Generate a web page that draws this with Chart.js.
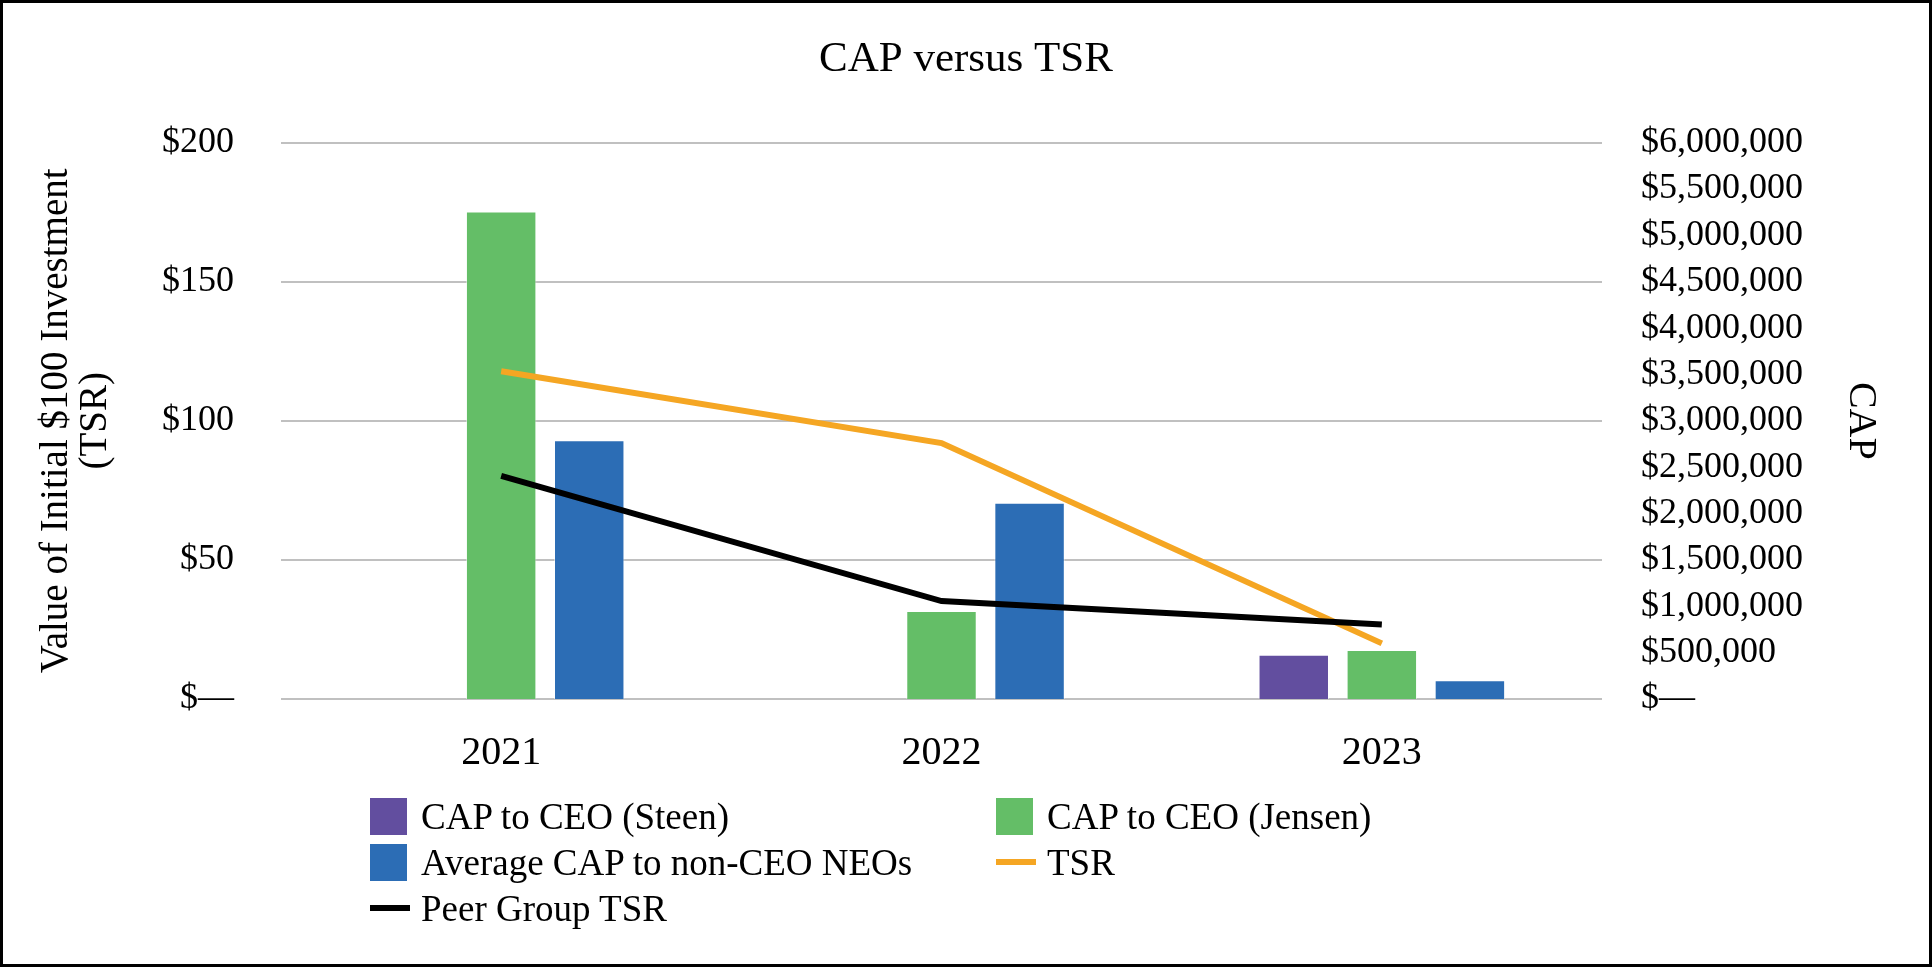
<!DOCTYPE html>
<html>
<head>
<meta charset="utf-8">
<title>CAP versus TSR</title>
<script src="https://cdn.jsdelivr.net/npm/chart.js@4.4.1/dist/chart.umd.min.js"></script>
<style>
    html, body { margin: 0; padding: 0; background: #fff; }
    #wrap { position: relative; width: 1932px; height: 967px; overflow: hidden; }
    #frame { position: absolute; left: 0; top: 0; width: 1932px; height: 967px;
             box-sizing: border-box; border: 3px solid #000; pointer-events: none; }
    #legend { position: absolute; left: 370px; top: 793px; width: 1300px;
              font-family: 'Liberation Serif', 'Times New Roman', serif; font-size: 37px; color: #000; }
    .item { position: absolute; height: 46px; display: flex; align-items: center; white-space: nowrap; }
    .box { width: 37px; height: 37px; margin-right: 14px; box-sizing: border-box; }
    .line { width: 40px; height: 6px; margin-right: 11px; }
</style>
</head>
<body>
<div id="wrap">
    <canvas id="capChart"></canvas>
    <div id="legend"></div>
    <div id="frame"></div>
</div>
<script>
const years = ['2021', '2022', '2023'];
const capSteen = [null, null, 477000];
const capJensen = [5257000, 950000, 528000];
const capNonCeo = [2790000, 2115000, 201000];
const tsr = [117.8, 92.0, 20.0];
const peerTsr = [80.2, 35.2, 26.8];

const serif = "'Liberation Serif', 'Times New Roman', serif";

document.addEventListener('DOMContentLoaded', function(){
    const ctx = document.getElementById('capChart').getContext('2d');

    const chart = new Chart(ctx, {
        type: 'bar',
        data: {
            labels: years,
            datasets: [
                { label: 'CAP to CEO (Steen)', data: capSteen, backgroundColor: '#624E9F',
                  borderColor: 'rgba(255,255,255,0.5)', borderWidth: 1, yAxisID: 'y1', order: 2 },
                { label: 'CAP to CEO (Jensen)', data: capJensen, backgroundColor: '#64BE67',
                  borderColor: 'rgba(255,255,255,0.5)', borderWidth: 1, yAxisID: 'y1', order: 2 },
                { label: 'Average CAP to non-CEO NEOs', data: capNonCeo, backgroundColor: '#2C6DB5',
                  borderColor: 'rgba(255,255,255,0.5)', borderWidth: 1, yAxisID: 'y1', order: 2 },
                { type: 'line', label: 'TSR', data: tsr, borderColor: '#F5A623', backgroundColor: '#F5A623',
                  borderWidth: 6, pointRadius: 0, tension: 0, yAxisID: 'y', order: 1 },
                { type: 'line', label: 'Peer Group TSR', data: peerTsr, borderColor: '#000', backgroundColor: '#000',
                  borderWidth: 6, pointRadius: 0, tension: 0, yAxisID: 'y', order: 0 }
            ]
        },
        options: {
            responsive: true,
            maintainAspectRatio: false,
            animation: false,
            categoryPercentage: 0.6,
            barPercentage: 0.8,
            layout: { padding: 0 },
            scales: {
                x: {
                    grid: { display: false },
                    border: { display: false },
                    ticks: { color: '#000', padding: 22, font: { family: serif, size: 40 } },
                    afterFit: function(scale){ scale.height = 268; }
                },
                y: {
                    position: 'left',
                    min: 0, max: 200,
                    grid: { color: '#C0C0C0', lineWidth: 2, drawTicks: false },
                    border: { display: false },
                    ticks: {
                        stepSize: 50, color: '#000', padding: 47,
                        font: { family: serif, size: 36 },
                        callback: v => v === 0 ? '$\u2014' : '$' + v
                    },
                    title: {
                        display: true,
                        text: ['Value of Initial $100 Investment', '(TSR)'],
                        color: '#000',
                        font: { family: serif, size: 39, lineHeight: 1.0 },
                        padding: { top: 37, bottom: 0 }
                    },
                    afterFit: function(scale){ scale.width = 281; }
                },
                y1: {
                    position: 'right',
                    min: 0, max: 6000000,
                    grid: { display: false, drawTicks: false },
                    border: { display: false },
                    ticks: {
                        stepSize: 500000, color: '#000', padding: 39,
                        font: { family: serif, size: 36 },
                        callback: v => v === 0 ? '$\u2014' : '$' + v.toLocaleString('en-US')
                    },
                    title: {
                        display: true,
                        text: 'CAP',
                        color: '#000',
                        font: { family: serif, size: 40, lineHeight: 1.0 },
                        padding: { top: 52, bottom: 0 }
                    },
                    afterFit: function(scale){ scale.width = 330; }
                }
            },
            plugins: {
                title: {
                    display: true,
                    text: 'CAP versus TSR',
                    color: '#000',
                    font: { family: serif, size: 43, weight: 'normal' },
                    padding: { top: 34, bottom: 57 }
                },
                legend: { display: false },
                tooltip: { enabled: false }
            }
        }
    });

    // legend in two columns, in the reference's order
    const slots = [
        { i: 0, x: 0, y: 0 }, { i: 1, x: 626, y: 0 },
        { i: 2, x: 0, y: 46 }, { i: 3, x: 626, y: 46 },
        { i: 4, x: 0, y: 92 }
    ];
    const legend = document.getElementById('legend');
    slots.forEach(s => {
        const ds = chart.data.datasets[s.i];
        const item = document.createElement('div');
        item.className = 'item';
        item.style.left = s.x + 'px';
        item.style.top = s.y + 'px';
        const sw = document.createElement('span');
        sw.className = ds.type === 'line' ? 'line' : 'box';
        sw.style.background = ds.type === 'line' ? ds.borderColor : ds.backgroundColor;
        const txt = document.createElement('span');
        txt.textContent = ds.label;
        item.appendChild(sw);
        item.appendChild(txt);
        legend.appendChild(item);
    });
});
</script>
</body>
</html>
